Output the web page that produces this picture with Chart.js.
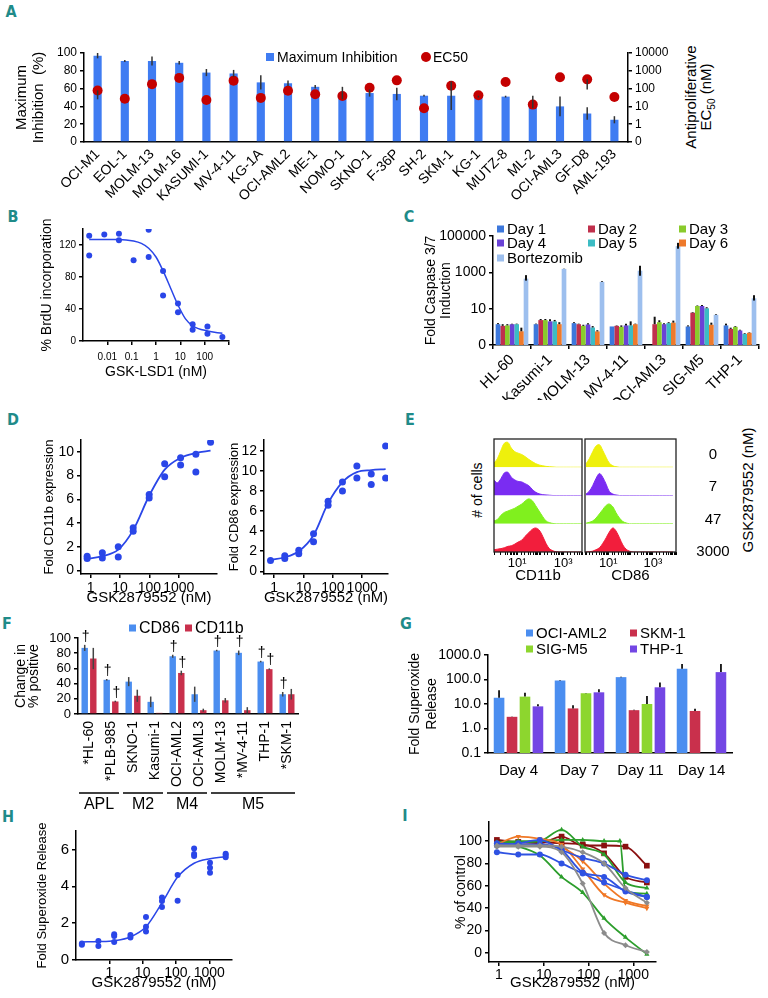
<!DOCTYPE html>
<html>
<head>
<meta charset="utf-8">
<title>GSK2879552 figure</title>
<script src="https://cdn.jsdelivr.net/npm/chart.js@4.4.1/dist/chart.umd.min.js"></script>
<style>
  body { margin: 0; width: 768px; height: 998px; position: relative; overflow: hidden; background: #fff; font-family: "Liberation Sans", Arial, sans-serif; color: #000; }
  canvas { position: absolute; }
  .letter { position: absolute; font-family: "DejaVu Sans Condensed", "DejaVu Sans", sans-serif; font-weight: bold; font-size: 16px; line-height: 16px; color: #1f8b89; transform: translate(-50%, -50%); }
  .rot { position: absolute; white-space: nowrap; transform: translate(-50%, -50%) rotate(-90deg); line-height: 1; }
  .dose { position: absolute; font-size: 15px; transform: translate(-50%, -50%); }
</style>
</head>
<body>
<div class="letter" style="left:11px;top:12px">A</div>
<div class="letter" style="left:13px;top:217px">B</div>
<div class="letter" style="left:409px;top:217px">C</div>
<div class="letter" style="left:13px;top:420px">D</div>
<div class="letter" style="left:410px;top:420px">E</div>
<div class="letter" style="left:7px;top:624px">F</div>
<div class="letter" style="left:406px;top:624px">G</div>
<div class="letter" style="left:8px;top:817px">H</div>
<div class="letter" style="left:405px;top:816px">I</div>

<canvas id="chA" width="660" height="162" style="left:8px;top:40px"></canvas>
<div class="rot" style="left:690px;top:97px;font-size:15px">Antiproliferative</div>
<div class="rot" style="left:707px;top:97px;font-size:15px">EC<sub style="font-size:10px">50</sub> (nM)</div>

<canvas id="chB" width="205" height="170" style="left:35px;top:215px"></canvas>
<canvas id="chC" width="348" height="182" style="left:420px;top:218px"></canvas>
<canvas id="chD1" width="192" height="180" style="left:38px;top:430px"></canvas>
<canvas id="chD2" width="177" height="180" style="left:223px;top:430px"></canvas>

<canvas id="chE1" width="96" height="150" style="left:490px;top:436px"></canvas>
<canvas id="chE2" width="99" height="150" style="left:581px;top:436px"></canvas>
<div class="rot" style="left:477px;top:490px;font-size:14px"># of cells</div>
<div class="rot" style="left:747px;top:490px;font-size:15px">GSK2879552 (nM)</div>
<div id="eDoseBox"></div>

<canvas id="chF" width="302" height="195" style="left:8px;top:620px"></canvas>
<canvas id="chG" width="342" height="163" style="left:403px;top:622px"></canvas>
<canvas id="chH" width="214" height="173" style="left:31px;top:822px"></canvas>
<canvas id="chI" width="218" height="180" style="left:450px;top:815px"></canvas>

<script>
// ---------- data: panel A
const aCells = ['OCI-M1','EOL-1','MOLM-13','MOLM-16','KASUMI-1','MV-4-11','KG-1A','OCI-AML2','ME-1','NOMO-1','SKNO-1','F-36P','SH-2','SKM-1','KG-1','MUTZ-8','ML-2','OCI-AML3','GF-D8','AML-193'];
const aMaxInh = [97, 91, 91, 89, 78, 77, 67, 66, 62, 55, 55, 54, 52, 52, 51, 51, 45, 40, 32, 25];
const aMaxInhErr = [3, 1, 5, 2, 4, 4, 8, 3, 2, 7, 4, 7, 1, 16, 1, 1, 7, 11, 7, 4];
const aEc50 = [79, 27, 178, 400, 23, 280, 30, 76, 48, 38, 112, 290, 7.8, 145, 42, 235, 12.6, 430, 330, 34];
const aEc50Lo = [25, null, null, null, null, null, null, null, null, null, null, null, null, null, null, null, null, null, 90, null];
const aEcTicks = [0.1, 1, 10, 100, 1000, 10000];
const aEcTickText = ['0', '1', '10', '100', '1000', '10000'];

// ---------- panel B
const bDose = [0.0018, 0.0018, 0.0075, 0.03, 0.03, 0.12, 0.5, 0.5, 1.95, 1.95, 8, 8, 32, 32, 130, 130, 535];
const bBrdU = [131.6, 107, 133, 134, 126, 101, 139, 105, 87.5, 57, 47, 36, 21, 14, 18, 9, 5];
const bFitDose = [0.0018, 0.03, 0.12, 0.25, 0.5, 1, 2, 4, 8, 16, 32, 130, 535];
const bFit = [127, 127, 125, 122, 116, 105, 87, 66, 45, 28, 19, 12.5, 9.6];
const bTicks = [0.01, 0.1, 1, 10, 100, 1000];
const bTickText = ['0.01', '0.1', '1', '10', '100', ''];
const bYTicks = [0, 40, 80, 120];

// ---------- panel C
const cCells = ['HL-60', 'Kasumi-1', 'MOLM-13', 'MV-4-11', 'OCI-AML3', 'SIG-M5', 'THP-1'];
const cDay1 = [1.4, 1.4, 1.6, 1.05, null, 1.05, 1.2];
const cDay2 = [1.13, 2.35, 1.4, 1.13, 1.4, 6, 0.77];
const cDay3 = [1.2, 2.35, 1.13, 1.0, 1.8, 14, 1.0];
const cDay4 = [1.4, 2.0, 1.35, 1.2, 1.4, 14, 0.63];
const cDay5 = [1.4, 2.0, 0.92, 1.2, 1.6, 10.5, 0.41];
const cDay6 = [0.57, 1.4, 0.56, 1.4, 1.7, 1.3, 0.47];
const cBort = [450, 1550, 300, 1230, 27500, 4.6, 37];
const cDay1Hi = [1.6, 1.5, 1.8, null, null, 1.2, 1.5];
const cDay2Hi = [1.4, 2.7, 1.5, 1.2, 3.6, 6.5, 0.9];
const cDay3Hi = [1.4, 2.7, 1.3, 1.2, 2.3, 15, 1.1];
const cDay4Hi = [1.5, 2.6, 1.6, 1.5, 1.6, 16, 0.7];
const cDay5Hi = [1.5, 2.4, 1.1, 2.0, 1.8, 12, 0.45];
const cDay6Hi = [0.9, 1.8, 0.65, 1.5, 2.2, 1.7, 0.5];
const cBortHi = [700, 1600, 330, 2300, 42000, 5, 55];
const cBortLo = [350, null, null, 650, 20000, null, 28];
const cTicks = [0.1, 10, 1000, 100000];
const cTickText = ['0', '10', '1000', '100000'];

// ---------- panel D
const d1Dose = [0.76, 0.76, 2.5, 2.5, 8.7, 8.7, 28, 28, 98, 98, 330, 330, 1150, 1150, 3800, 3800, 12000];
const d1Fold = [1.2, 1.0, 1.5, 1.04, 2.0, 1.13, 3.6, 3.3, 6.4, 6.1, 9.0, 7.9, 9.5, 8.9, 9.8, 8.3, 10.8];
const d1FitDose = [0.76, 2.5, 8.7, 28, 98, 330, 1150, 3800, 12000];
const d1Fit = [0.98, 1.2, 1.75, 3.4, 6.3, 8.5, 9.5, 9.9, 10.1];
const d2Dose = [0.75, 2.3, 2.3, 6.9, 6.9, 22, 22, 69, 69, 213, 213, 660, 660, 2040, 2040, 6300, 6300];
const d2Fold = [1.08, 1.54, 1.28, 2.1, 1.74, 3.75, 2.95, 7.0, 6.6, 8.9, 8.0, 10.5, 9.3, 9.7, 8.65, 12.5, 9.3];
const d2FitDose = [0.75, 2.3, 6.9, 22, 69, 213, 660, 2040, 6300];
const d2Fit = [1.15, 1.4, 2.0, 3.6, 6.8, 8.9, 9.9, 10.1, 10.2];
const dXTicks = [1, 10, 100, 1000];
const dXTickText = ['1', '10', '100', '1000'];
const d1YTicks = [0, 2, 4, 6, 8, 10];
const d2YTicks = [0, 2, 4, 6, 8, 10, 12];

// ---------- panel E (flow histograms, rows: 0, 7, 47, 3000 nM)
const eDoses = ['0', '7', '47', '3000'];
const eBins = [1, 1.4, 2, 2.8, 4, 5.6, 8, 11, 16, 22, 32, 45, 63, 90, 130, 180, 250, 360, 500, 710, 1000, 1400, 2000, 2800, 4000, 5600, 8000];
const eCd11b0 = [0.15, 0.3, 0.6, 0.85, 0.88, 0.68, 0.55, 0.5, 0.45, 0.38, 0.28, 0.2, 0.13, 0.08, 0.05, 0.03, 0.02, 0.01, 0, 0, 0, 0, 0, 0, 0, 0, 0];
const eCd11b7 = [0.55, 0.45, 0.6, 0.8, 0.82, 0.65, 0.55, 0.5, 0.48, 0.42, 0.35, 0.22, 0.12, 0.06, 0.03, 0.02, 0.01, 0, 0, 0, 0, 0, 0, 0, 0, 0, 0];
const eCd11b47 = [0.1, 0.15, 0.3, 0.4, 0.45, 0.5, 0.55, 0.62, 0.7, 0.8, 0.88, 0.82, 0.65, 0.45, 0.25, 0.1, 0.04, 0.01, 0, 0, 0, 0, 0, 0, 0, 0, 0];
const eCd11b3000 = [0.08, 0.1, 0.12, 0.15, 0.2, 0.22, 0.28, 0.35, 0.42, 0.55, 0.68, 0.8, 0.85, 0.78, 0.55, 0.3, 0.12, 0.04, 0.01, 0, 0, 0, 0, 0, 0, 0, 0];
const eCd86_0 = [0.12, 0.3, 0.55, 0.75, 0.8, 0.6, 0.35, 0.15, 0.05, 0.02, 0, 0, 0, 0, 0, 0, 0, 0, 0, 0, 0, 0, 0, 0, 0, 0, 0];
const eCd86_7 = [0.05, 0.15, 0.35, 0.6, 0.78, 0.65, 0.4, 0.15, 0.05, 0.02, 0, 0, 0, 0, 0, 0, 0, 0, 0, 0, 0, 0, 0, 0, 0, 0, 0];
const eCd86_47 = [0.02, 0.05, 0.1, 0.2, 0.35, 0.5, 0.65, 0.7, 0.6, 0.4, 0.2, 0.08, 0.03, 0, 0, 0, 0, 0, 0, 0, 0, 0, 0, 0, 0, 0, 0];
const eCd86_3000 = [0, 0.01, 0.03, 0.08, 0.15, 0.3, 0.5, 0.7, 0.85, 0.75, 0.5, 0.25, 0.1, 0.03, 0, 0, 0, 0, 0, 0, 0, 0, 0, 0, 0, 0, 0];
const eTickVals = [10, 1000];
const eTickText = ['10\u00b9', '10\u00b3'];

// ---------- panel F
const fCells = ['*HL-60', '*PLB-985', 'SKNO-1', 'Kasumi-1', 'OCI-AML2', 'OCI-AML3', 'MOLM-13', '*MV-4-11', 'THP-1', '*SKM-1'];
const fCD86 = [87, 45, 42.6, 16, 76, 26, 83.5, 80.5, 69, 26];
const fCD86Err = [4, 1, 6, 7, 2, 10, 1, 3, 1, 3];
const fCD11b = [73, 16.5, 24, 1.5, 54, 5, 18, 5, 59, 26];
const fCD11bErr = [14, 1, 8, 0, 3, 2, 3, 4, 1, 7];
const fCD86Dagger = [1, 1, 0, 0, 1, 0, 1, 1, 1, 1];
const fCD11bDagger = [0, 1, 0, 0, 1, 0, 0, 0, 1, 0];
const fGroups = ['APL', 'M2', 'M4', 'M5'];
const fGroupFrom = [0, 2, 4, 6];
const fGroupTo = [1, 3, 5, 9];

// ---------- panel G
const gDays = ['Day 4', 'Day 7', 'Day 11', 'Day 14'];
const gOciAml2 = [18, 91, 125, 275];
const gOciAml2Hi = [36, 95, 130, 425];
const gSkm1 = [3.0, 6.6, 5.6, 5.2];
const gSkm1Hi = [3.1, 8.9, 5.8, 6.4];
const gSigM5 = [20, 27.5, 10, null];
const gSigM5Hi = [29, 28, 21, null];
const gThp1 = [8, 30, 48, 200];
const gThp1Hi = [9.8, 40, 76, 425];
const gTicks = [0.1, 1, 10, 100, 1000];
const gTickText = ['0.1', '1.0', '10.0', '100.0', '1000.0'];

// ---------- panel H
const hDose = [0.15, 0.15, 0.47, 0.47, 1.4, 1.4, 1.4, 4.3, 4.3, 12.6, 12.6, 12.6, 38, 38, 38, 112, 112, 350, 350, 350, 1050, 1050, 1050, 3100, 3100, 3100];
const hRelease = [0.9, 0.83, 1.03, 0.76, 1.4, 1.3, 0.97, 1.35, 1.22, 2.34, 1.8, 1.55, 3.39, 3.2, 2.88, 4.61, 3.22, 6.05, 5.75, 5.64, 5.28, 5.0, 4.74, 5.77, 5.7, 5.58];
const hFitDose = [0.15, 0.47, 1.4, 4.3, 12.6, 38, 112, 350, 1050, 3100];
const hFit = [0.98, 1.0, 1.05, 1.25, 1.8, 3.1, 4.5, 5.25, 5.5, 5.6];
const hYTicks = [0, 2, 4, 6];

// ---------- panel I
const iDose = [0.9, 2.7, 8.2, 25, 74, 222, 667, 2000];
const iDoseGreen2 = [0.9, 2.7, 8.2, 25, 74, 222, 500, 667, 2000];
const iRed1 = [101, 99, 98, 104, 96, 96, 95, 78];
const iRed2 = [99, 99, 99, 98, 97, 89, 68, 63];
const iBlue1 = [90, 88, 88, 80, 71, 63, 56, 50];
const iBlue2 = [96, 98, 101, 92, 85, 80, 70, 65];
const iBlue3 = [98, 97, 97, 92, 72, 68, 55, 50];
const iOrange1 = [97, 104, 102, 97, 75, 52, 45, 40];
const iOrange2 = [97, 96, 96, 94, 82, 62, 47, 42];
const iGreen1 = [98, 95, 87, 68, 54, 31, 14, -1];
const iGreen2 = [99, 100, 100, 101, 101, 100, 100, 55, 53];
const iGreen3 = [98, 99, 100, 110, 95, 88, 63, 58];
const iGray1 = [95, 95, 95, 90, 62, 18, 7, 1];
const iGray2 = [96, 96, 96, 95, 90, 80, 58, 45];
const iYTicks = [0, 20, 40, 60, 80, 100];

// ---------- setup
Chart.defaults.font.family = '"Liberation Sans", Arial, sans-serif';
Chart.defaults.color = '#000';
Chart.defaults.animation = false;
Chart.defaults.responsive = false;
Chart.defaults.plugins.legend.display = false;
Chart.defaults.plugins.tooltip.enabled = false;

const fixW = w => s => { s.width = w; s.paddingTop = 0; s.paddingBottom = 0; };
const fixH = h => s => { s.height = h; s.paddingLeft = 0; s.paddingRight = 0; };
const setTicks = vals => s => { s.ticks = vals.map(v => ({ value: v })); };
const axisLine = { display: true, color: '#000', width: 1.5 };
const tickOnly = { drawOnChartArea: false, color: '#000', tickLength: 4, lineWidth: 1.5 };
const noGrid = { display: false, drawTicks: false };
const xy = (xs, ys) => xs.map((x, i) => ({ x: x, y: ys[i] }));
const ptBlue = '#2a46e8';

// error bars drawn with the dataset's own y scale
const errorBars = {
  id: 'errorBars',
  afterDatasetsDraw(chart) {
    const ctx = chart.ctx;
    chart.data.datasets.forEach((ds, i) => {
      if (!ds.err && !ds.errHi && !ds.errLo) return;
      const meta = chart.getDatasetMeta(i);
      const ys = chart.scales[meta.yAxisID];
      ctx.save();
      ctx.strokeStyle = ds.errColor || '#333';
      ctx.lineWidth = ds.errWidth || 1.5;
      meta.data.forEach((el, j) => {
        const v = ds.data[j];
        if (v == null) return;
        let lo = v, hi = v;
        if (ds.err) { lo = v - ds.err[j]; hi = v + ds.err[j]; }
        if (ds.errHi && ds.errHi[j] != null) hi = ds.errHi[j];
        if (ds.errLo && ds.errLo[j] != null) lo = ds.errLo[j];
        if (lo === hi) return;
        ctx.beginPath();
        ctx.moveTo(el.x, ys.getPixelForValue(lo));
        ctx.lineTo(el.x, ys.getPixelForValue(hi));
        ctx.stroke();
      });
      ctx.restore();
    });
  }
};

const placedLegend = {
  id: 'placedLegend',
  afterDraw(chart, args, opts) {
    if (!opts.at) return;
    const ctx = chart.ctx, b = opts.box || 7;
    ctx.save();
    ctx.font = opts.font;
    ctx.textBaseline = 'middle';
    ctx.textAlign = 'left';
    chart.data.datasets.forEach((ds, i) => {
      const p = opts.at[i];
      if (!p) return;
      ctx.fillStyle = ds.backgroundColor;
      if (ds.type === 'line') {
        ctx.beginPath(); ctx.arc(p[0] + b / 2, p[1], b / 2 + 1, 0, 2 * Math.PI); ctx.fill();
      } else {
        ctx.fillRect(p[0], p[1] - b / 2, b, b);
      }
      ctx.fillStyle = '#000';
      ctx.fillText(ds.label, p[0] + b + 3, p[1] + 1);
    });
    ctx.restore();
  }
};

const daggers = {
  id: 'daggers',
  afterDatasetsDraw(chart, args, opts) {
    if (!opts.font) return;
    const ctx = chart.ctx;
    ctx.save();
    ctx.font = opts.font; ctx.fillStyle = '#000'; ctx.textAlign = 'center'; ctx.textBaseline = 'bottom';
    chart.data.datasets.forEach((ds, i) => {
      if (!ds.dagger) return;
      const meta = chart.getDatasetMeta(i), ys = chart.scales[meta.yAxisID];
      meta.data.forEach((el, j) => {
        if (!ds.dagger[j]) return;
        const top = ys.getPixelForValue(ds.data[j] + (ds.err ? ds.err[j] : 0));
        ctx.fillText('\u2020', el.x + 1, top - 1);
      });
    });
    ctx.restore();
  }
};

const groupLines = {
  id: 'groupLines',
  afterDraw(chart, args, opts) {
    if (!opts.names) return;
    const x = chart.scales.x, ctx = chart.ctx;
    const half = (x.right - x.left) / chart.data.labels.length / 2;
    const yl = chart.chartArea.bottom + opts.lineGap;
    ctx.save();
    ctx.strokeStyle = '#000'; ctx.lineWidth = 1.3; ctx.fillStyle = '#000';
    ctx.font = opts.font; ctx.textAlign = 'center'; ctx.textBaseline = 'middle';
    opts.names.forEach((n, k) => {
      const a = x.getPixelForValue(opts.from[k]) - half + 1;
      const b = x.getPixelForValue(opts.to[k]) + half - 3;
      ctx.beginPath(); ctx.moveTo(a, yl); ctx.lineTo(b, yl); ctx.stroke();
      ctx.fillText(n, (a + b) / 2, yl + opts.textGap);
    });
    ctx.restore();
  }
};

const frame = {
  id: 'frame',
  afterDraw(chart, args, opts) {
    if (!opts.on) return;
    const a = chart.chartArea, ctx = chart.ctx;
    ctx.save(); ctx.strokeStyle = '#222'; ctx.lineWidth = 1.3;
    ctx.strokeRect(a.left, a.top, a.right - a.left, a.bottom - a.top);
    ctx.restore();
  }
};

Chart.register(errorBars, placedLegend, daggers, groupLines, frame);

// ---------- A
new Chart(document.getElementById('chA'), {
  type: 'bar',
  data: {
    labels: aCells,
    datasets: [
      { type: 'line', label: 'EC50', data: aEc50, errLo: aEc50Lo, yAxisID: 'y2', showLine: false, pointRadius: 5, pointBorderWidth: 0, pointBackgroundColor: '#c40000', backgroundColor: '#c40000', order: 0 },
      { label: 'Maximum Inhibition', data: aMaxInh, err: aMaxInhErr, yAxisID: 'y', backgroundColor: '#3f7cf2', barPercentage: 0.3, categoryPercentage: 1, order: 1 }
    ]
  },
  options: {
    layout: { padding: { top: 13 } },
    plugins: { placedLegend: { at: [[414, 17], [258, 17]], font: '14px "Liberation Sans", Arial', box: 8 } },
    scales: {
      x: { grid: noGrid, border: axisLine, ticks: { font: { size: 14 }, minRotation: 45, maxRotation: 45, autoSkip: false, padding: 4 }, afterFit: fixH(60) },
      y: { position: 'left', min: 0, max: 100, ticks: { stepSize: 20, font: { size: 12 }, autoSkip: false }, grid: tickOnly, border: axisLine,
           title: { display: true, text: ['Maximum', 'Inhibition  (%)'], font: { size: 15, lineHeight: 1.1 }, padding: { top: 6, bottom: 0 } }, afterFit: fixW(76) },
      y2: { type: 'logarithmic', position: 'right', min: 0.1, max: 10000, afterBuildTicks: setTicks(aEcTicks),
            ticks: { callback: (v, i) => aEcTickText[i], font: { size: 12 }, autoSkip: false }, grid: tickOnly, border: axisLine, afterFit: fixW(40) }
    }
  }
});

// ---------- B
new Chart(document.getElementById('chB'), {
  type: 'scatter',
  data: { datasets: [
    { data: xy(bDose, bBrdU), pointRadius: 3, pointBorderWidth: 0, pointBackgroundColor: ptBlue },
    { data: xy(bFitDose, bFit), showLine: true, pointRadius: 0, borderColor: ptBlue, borderWidth: 1.5, cubicInterpolationMode: 'monotone' }
  ]},
  options: {
    layout: { padding: { top: 14, right: 11 } },
    scales: {
      x: { type: 'logarithmic', min: 0.001, max: 1000, afterBuildTicks: setTicks(bTicks),
           ticks: { callback: (v, i) => bTickText[i], font: { size: 10 }, autoSkip: false, maxRotation: 0, padding: 6 }, grid: tickOnly, border: axisLine,
           title: { display: true, text: 'GSK-LSD1 (nM)', font: { size: 14 }, padding: { top: 0, bottom: 4 } }, afterFit: fixH(44) },
      y: { min: 0, max: 140, afterBuildTicks: setTicks(bYTicks), ticks: { font: { size: 10 }, autoSkip: false }, grid: tickOnly, border: axisLine,
           title: { display: true, text: '% BrdU incorporation', font: { size: 14 }, padding: { top: 4, bottom: 0 } }, afterFit: fixW(48) }
    }
  }
});

// ---------- C
new Chart(document.getElementById('chC'), {
  type: 'bar',
  data: {
    labels: cCells,
    datasets: [
      { label: 'Day 1', data: cDay1, errHi: cDay1Hi, backgroundColor: '#3d78dc' },
      { label: 'Day 2', data: cDay2, errHi: cDay2Hi, backgroundColor: '#c0304c' },
      { label: 'Day 3', data: cDay3, errHi: cDay3Hi, backgroundColor: '#8acb2c' },
      { label: 'Day 4', data: cDay4, errHi: cDay4Hi, backgroundColor: '#6a42d6' },
      { label: 'Day 5', data: cDay5, errHi: cDay5Hi, backgroundColor: '#3cbcc4' },
      { label: 'Day 6', data: cDay6, errHi: cDay6Hi, backgroundColor: '#ee7a2c' },
      { label: 'Bortezomib', data: cBort, errHi: cBortHi, errLo: cBortLo, backgroundColor: '#9dbfee' }
    ].map(d => Object.assign(d, { categoryPercentage: 0.86, barPercentage: 1.0, errColor: '#111', errWidth: 2 }))
  },
  options: {
    layout: { padding: { top: 18, right: 9 } },
    plugins: { placedLegend: { at: [[77, 11], [168, 11], [259, 11], [77, 25], [168, 25], [259, 25], [77, 40]], font: '15px "Liberation Sans", Arial', box: 7 } },
    scales: {
      x: { grid: { drawOnChartArea: false, color: '#000', tickLength: 4, lineWidth: 1.5, offset: true }, border: axisLine,
           ticks: { font: { size: 15 }, minRotation: 45, maxRotation: 45, autoSkip: false, padding: 2 }, afterFit: fixH(55) },
      y: { type: 'logarithmic', min: 0.1, max: 100000, afterBuildTicks: setTicks(cTicks), ticks: { callback: (v, i) => cTickText[i], font: { size: 14 }, autoSkip: false },
           grid: tickOnly, border: axisLine,
           title: { display: true, text: ['Fold Caspase 3/7', 'Induction'], font: { size: 14, lineHeight: 1.05 }, padding: { top: 4, bottom: 0 } }, afterFit: fixW(73) }
    }
  }
});

// ---------- D
function doseChart(id, pts, fit, xMin, xMax, yMin, yMax, yTicks, yTitle, yW, rightPad) {
  return new Chart(document.getElementById(id), {
    type: 'scatter',
    data: { datasets: [
      { data: pts, pointRadius: 3.5, pointBorderWidth: 0, pointBackgroundColor: ptBlue },
      { data: fit, showLine: true, pointRadius: 0, borderColor: ptBlue, borderWidth: 1.8, cubicInterpolationMode: 'monotone' }
    ]},
    options: {
      layout: { padding: { top: 10, right: rightPad } },
      scales: {
        x: { type: 'logarithmic', min: xMin, max: xMax, afterBuildTicks: setTicks(dXTicks),
             ticks: { callback: (v, i) => dXTickText[i], font: { size: 14 }, autoSkip: false, maxRotation: 0, padding: 2 }, grid: tickOnly, border: axisLine,
             title: { display: true, text: 'GSK2879552 (nM)', font: { size: 15 }, padding: { top: 0, bottom: 3 } }, afterFit: fixH(36) },
        y: { min: yMin, max: yMax, afterBuildTicks: setTicks(yTicks), ticks: { font: { size: 14 }, autoSkip: false }, grid: tickOnly, border: axisLine,
             title: { display: true, text: yTitle, font: { size: 13 }, padding: { top: 4, bottom: 0 } }, afterFit: fixW(yW) }
      }
    }
  });
}
doseChart('chD1', xy(d1Dose, d1Fold), xy(d1FitDose, d1Fit), 0.47, 19900, -0.3, 11, d1YTicks, 'Fold CD11b expression', 43, 13);
doseChart('chD2', xy(d2Dose, d2Fold), xy(d2FitDose, d2Fit), 0.45, 7600, -0.27, 13.1, d2YTicks, 'Fold CD86 expression', 41, 12);

// ---------- E
const rowColors = ['#eef00c', '#7a2cf2', '#80f01e', '#f21e3c'];
function flowChart(id, rows, xMin, xMax, title) {
  const scales = {
    x: { type: 'logarithmic', min: xMin, max: xMax,
         ticks: { autoSkip: false, maxRotation: 0, padding: 1, font: { size: 13 },
                  callback: v => { const k = eTickVals.findIndex(t => Math.abs(Math.log10(v) - Math.log10(t)) < 1e-6); return k < 0 ? '' : eTickText[k]; } },
         grid: { drawOnChartArea: false, color: '#000', tickLength: 3, lineWidth: 1 }, border: { display: false },
         title: { display: true, text: title, font: { size: 15 }, padding: { top: 0, bottom: 1 } }, afterFit: fixH(34) }
  };
  [3, 2, 1, 0].forEach(k => { scales['r' + k] = { display: false, position: 'left', stack: 'rows', stackWeight: 1, min: 0, max: 1 }; });
  return new Chart(document.getElementById(id), {
    type: 'line',
    data: { datasets: rows.map((r, k) => ({ data: xy(eBins, r), yAxisID: 'r' + k, borderColor: rowColors[k], backgroundColor: rowColors[k], borderWidth: 1, pointRadius: 0, fill: 'origin', tension: 0.35 })) },
    options: { layout: { padding: { top: 3, left: 4, right: 4 } }, plugins: { frame: { on: true } }, scales: scales }
  });
}
flowChart('chE1', [eCd11b0, eCd11b7, eCd11b47, eCd11b3000], 1, 6500, 'CD11b');
flowChart('chE2', [eCd86_0, eCd86_7, eCd86_47, eCd86_3000], 0.9, 11000, 'CD86');
const eDoseTop = [453, 485, 518, 550];
eDoses.forEach((d, k) => {
  const s = document.createElement('div');
  s.className = 'dose'; s.textContent = d;
  s.style.left = '713px'; s.style.top = eDoseTop[k] + 'px';
  document.getElementById('eDoseBox').appendChild(s);
});

// ---------- F
new Chart(document.getElementById('chF'), {
  type: 'bar',
  data: {
    labels: fCells,
    datasets: [
      { label: 'CD86', data: fCD86, err: fCD86Err, dagger: fCD86Dagger, backgroundColor: '#4b8ef0' },
      { label: 'CD11b', data: fCD11b, err: fCD11bErr, dagger: fCD11bDagger, backgroundColor: '#c9304c' }
    ].map(d => Object.assign(d, { categoryPercentage: 0.78, barPercentage: 0.75, errColor: '#444' }))
  },
  options: {
    layout: { padding: { top: 18, right: 12 } },
    plugins: {
      placedLegend: { at: [[121, 8], [177, 8]], font: '16px "Liberation Sans", Arial', box: 7 },
      daggers: { font: '14px "Liberation Sans", Arial' },
      groupLines: { names: fGroups, from: fGroupFrom, to: fGroupTo, lineGap: 79, textGap: 12, font: '16px "Liberation Sans", Arial' }
    },
    scales: {
      x: { grid: noGrid, border: axisLine, ticks: { font: { size: 14 }, minRotation: 90, maxRotation: 90, autoSkip: false, padding: 7 }, afterFit: fixH(101) },
      y: { min: 0, max: 100, ticks: { stepSize: 20, font: { size: 13 }, autoSkip: false }, grid: tickOnly, border: axisLine,
           title: { display: true, text: ['Change in', '% positive'], font: { size: 14, lineHeight: 0.95 }, padding: { top: 6, bottom: 0 } }, afterFit: fixW(70) }
    }
  }
});

// ---------- G
new Chart(document.getElementById('chG'), {
  type: 'bar',
  data: {
    labels: gDays,
    datasets: [
      { label: 'OCI-AML2', data: gOciAml2, errHi: gOciAml2Hi, backgroundColor: '#4b8ef0' },
      { label: 'SKM-1', data: gSkm1, errHi: gSkm1Hi, backgroundColor: '#c9304c' },
      { label: 'SIG-M5', data: gSigM5, errHi: gSigM5Hi, backgroundColor: '#8dd62e' },
      { label: 'THP-1', data: gThp1, errHi: gThp1Hi, backgroundColor: '#7346e4' }
    ].map(d => Object.assign(d, { categoryPercentage: 0.85, barPercentage: 0.82, errColor: '#111', errWidth: 1.8 }))
  },
  options: {
    layout: { padding: { top: 33, right: 13 } },
    plugins: { placedLegend: { at: [[123, 11], [227, 11], [123, 27], [227, 27]], font: '15px "Liberation Sans", Arial', box: 7 } },
    scales: {
      x: { grid: noGrid, border: axisLine, ticks: { font: { size: 15 }, maxRotation: 0, autoSkip: false, padding: 9 }, afterFit: fixH(32) },
      y: { type: 'logarithmic', min: 0.1, max: 1000, afterBuildTicks: setTicks(gTicks), ticks: { callback: (v, i) => gTickText[i], font: { size: 14 }, autoSkip: false },
           grid: tickOnly, border: axisLine,
           title: { display: true, text: ['Fold Superoxide', 'Release'], font: { size: 14, lineHeight: 1.25 }, padding: { top: 3, bottom: 0 } }, afterFit: fixW(85) }
    }
  }
});

// ---------- H
new Chart(document.getElementById('chH'), {
  type: 'scatter',
  data: { datasets: [
    { data: xy(hDose, hRelease), pointRadius: 3, pointBorderWidth: 0, pointBackgroundColor: ptBlue },
    { data: xy(hFitDose, hFit), showLine: true, pointRadius: 0, borderColor: ptBlue, borderWidth: 1.5, cubicInterpolationMode: 'monotone' }
  ]},
  options: {
    layout: { padding: { top: 9, right: 13 } },
    scales: {
      x: { type: 'logarithmic', min: 0.1, max: 4800, afterBuildTicks: setTicks(dXTicks),
           ticks: { callback: (v, i) => dXTickText[i], font: { size: 14 }, autoSkip: false, maxRotation: 0, padding: 1 }, grid: tickOnly, border: axisLine,
           title: { display: true, text: 'GSK2879552 (nM)', font: { size: 15 }, padding: { top: 0, bottom: 3 } }, afterFit: fixH(35) },
      y: { min: 0, max: 7, afterBuildTicks: setTicks(hYTicks), ticks: { font: { size: 15 }, autoSkip: false }, grid: tickOnly, border: axisLine,
           title: { display: true, text: 'Fold Superoxide Release', font: { size: 13 }, padding: { top: 4, bottom: 0 } }, afterFit: fixW(45) }
    }
  }
});

// ---------- I
const iSeries = [
  [iDose, iGray2, '#8c8c8c', 'rectRot'], [iDose, iGray1, '#8c8c8c', 'rectRot'],
  [iDose, iBlue1, '#2f52e2', 'circle'], [iDose, iBlue2, '#2f52e2', 'circle'], [iDose, iBlue3, '#2f52e2', 'circle'],
  [iDose, iOrange1, '#f07826', 'triangle'], [iDose, iOrange2, '#f07826', 'triangle'],
  [iDose, iGreen1, '#2c9e2c', 'triangle'], [iDoseGreen2, iGreen2, '#2c9e2c', 'triangle'], [iDose, iGreen3, '#2c9e2c', 'triangle'],
  [iDose, iRed2, '#8a1010', 'rect'], [iDose, iRed1, '#8a1010', 'rect']
];
new Chart(document.getElementById('chI'), {
  type: 'scatter',
  data: { datasets: iSeries.map(s => ({
    data: xy(s[0], s[1]), showLine: true, borderColor: s[2], backgroundColor: s[2], borderWidth: 1.8,
    pointStyle: s[3], pointRadius: s[3] === 'rect' ? 4 : 3, pointRotation: s[2] === '#f07826' ? 180 : 0, pointBorderWidth: 0,
    cubicInterpolationMode: 'monotone'
  })) },
  options: {
    layout: { padding: { top: 7, right: 12 } },
    scales: {
      x: { type: 'logarithmic', min: 0.6, max: 3200, afterBuildTicks: setTicks(dXTicks),
           ticks: { callback: (v, i) => dXTickText[i], font: { size: 14 }, autoSkip: false, maxRotation: 0, padding: 1 }, grid: tickOnly, border: axisLine,
           title: { display: true, text: 'GSK2879552 (nM)', font: { size: 15 }, padding: { top: 0, bottom: 3 } }, afterFit: fixH(33) },
      y: { min: -8, max: 117, afterBuildTicks: setTicks(iYTicks), ticks: { font: { size: 14 }, autoSkip: false }, grid: tickOnly, border: axisLine,
           title: { display: true, text: '% of control', font: { size: 14 }, padding: { top: 3, bottom: 0 } }, afterFit: fixW(39) }
    }
  }
});
</script>
</body>
</html>
